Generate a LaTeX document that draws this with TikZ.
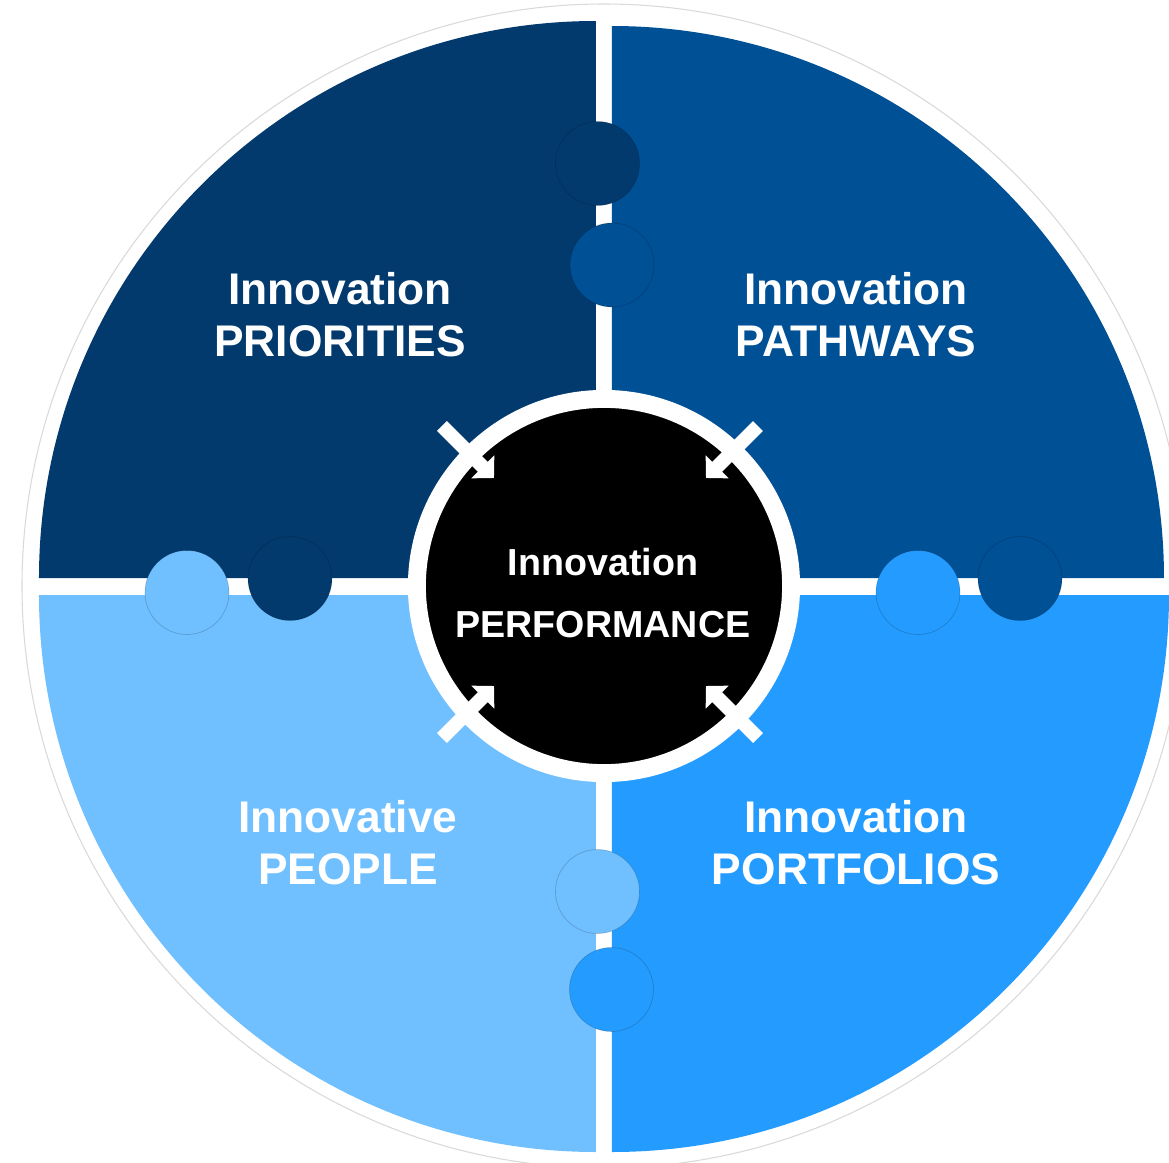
\documentclass[tikz,border=0pt]{standalone}
\usepackage{fontspec}
\setmainfont{Liberation Sans}
\usepackage{xcolor}
\definecolor{prioblue}{RGB}{3,58,110}
\definecolor{pathblue}{RGB}{0,80,150}
\definecolor{peopleblue}{RGB}{112,192,255}
\definecolor{portblue}{RGB}{36,156,255}
\usetikzlibrary{arrows.meta}
\tikzset{tab/.style={draw=black, draw opacity=0.18, line width=0.2pt},
 quadtext/.style={text=white, align=center,
   font=\bfseries\fontsize{12.6}{14.8}\selectfont},
 hub/.style={circle, fill=black, draw=white, line width=5.1pt,
   minimum size=3.74cm, inner sep=0pt},
 hubtext/.style={text=white, align=center,
   font=\bfseries\fontsize{10.7}{17.4}\selectfont},
 inarrow/.style={draw=white, line width=4pt,
   -{Triangle[length=4.5pt,width=9pt]}},
 }

\begin{document}
\begin{tikzpicture}[x=0.01cm,y=0.01cm]
        \useasboundingbox (-604,-577) rectangle (565,586);
        \clip (-604,-577) rectangle (565,586);
        \filldraw[fill=white, draw=black!15, line width=0.3pt] (0,0) circle (582);

        % four quarters
        \fill[prioblue] (-8,8) -- (-565,8) arc[start angle=180, end angle=90, radius=557] -- cycle;
        \fill[pathblue] (8,8) -- (8,560) arc[start angle=90, end angle=0, radius=552] -- cycle;
        \fill[portblue] (8,-9) -- (565,-9) arc[start angle=0, end angle=-90, radius=557] -- cycle;
        \fill[peopleblue] (-8,-9) -- (-8,-566) arc[start angle=270, end angle=180, radius=557] -- cycle;

        % puzzle tabs
        \filldraw[fill=prioblue, tab] (-6.5,422.5) circle (42);
        \filldraw[fill=pathblue, tab] (8,321) circle (42);
        \filldraw[fill=peopleblue, tab] (-417,-6.5) circle (42);
        \filldraw[fill=prioblue, tab] (-314,7.5) circle (42);
        \filldraw[fill=portblue, tab] (314,-6.5) circle (42);
        \filldraw[fill=pathblue, tab] (416,7.5) circle (42);
        \filldraw[fill=peopleblue, tab] (-6.5,-305.5) circle (42);
        \filldraw[fill=portblue, tab] (7.5,-403.5) circle (42);

        \node[hub] (perf) at (0,0) {};
        \node[hubtext] (perftext) at (-1,-7) {Innovation\\PERFORMANCE};

        \coordinate (tlA) at (-162,160);
        \coordinate (tlB) at (-110,108);
        \coordinate (trA) at (154,160);
        \coordinate (trB) at (102,108);
        \coordinate (blA) at (-162,-152);
        \coordinate (blB) at (-110,-100);
        \coordinate (brA) at (154,-152);
        \coordinate (brB) at (102,-100);
        \draw[inarrow] (tlA) -- (tlB);
        \draw[inarrow] (trA) -- (trB);
        \draw[inarrow] (blA) -- (blB);
        \draw[inarrow] (brA) -- (brB);

        \node[quadtext] (prio) at (-264,271) {Innovation\\PRIORITIES};
        \node[quadtext] (path) at (252,271) {Innovation\\PATHWAYS};
        \node[quadtext] (people) at (-256,-257) {Innovative\\PEOPLE};
        \node[quadtext] (port) at (252,-257) {Innovation\\PORTFOLIOS};
    \end{tikzpicture}
\end{document}
